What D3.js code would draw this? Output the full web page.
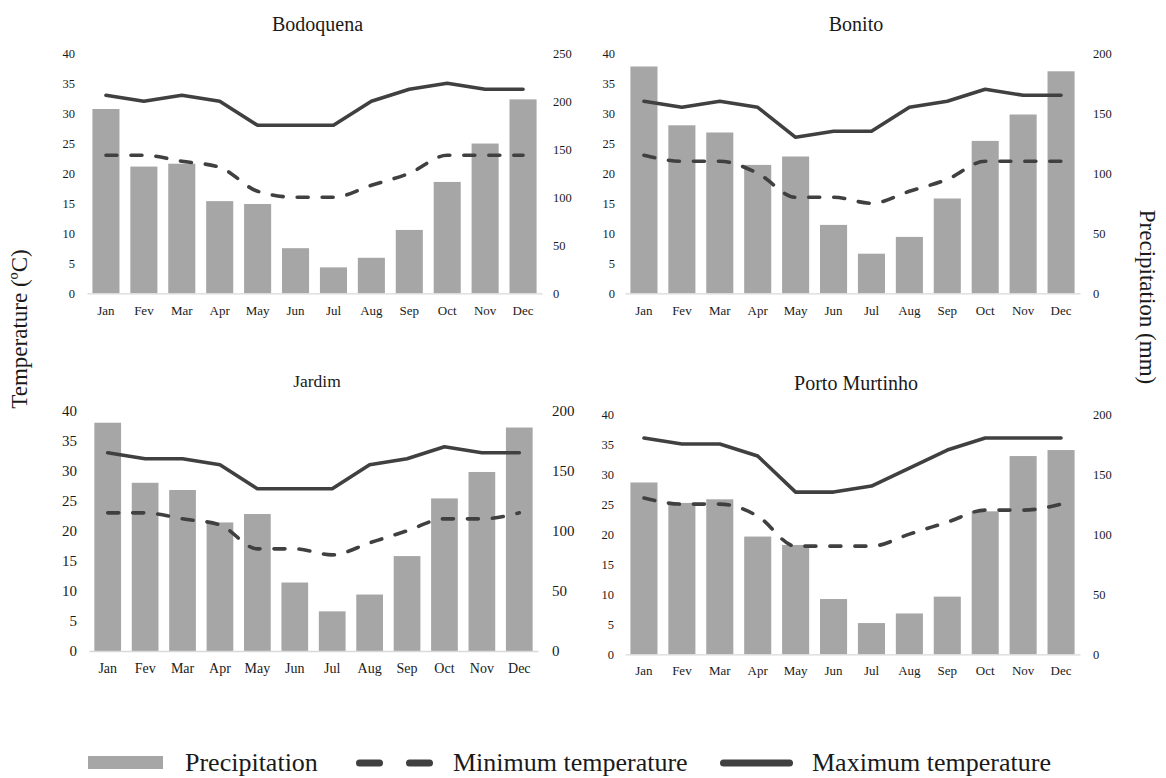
<!DOCTYPE html>
<html>
<head>
<meta charset="utf-8">
<script src="https://cdn.jsdelivr.net/npm/d3@7"></script>
<style>
  html, body { margin: 0; padding: 0; background: #fff; }
  svg { display: block; }
  svg text { font-family: "Liberation Serif", "Times New Roman", serif; }
</style>
</head>
<body>
<svg id="chart" width="1166" height="778"></svg>
<script>
// Monthly climate normals for four municipalities
const months = ["Jan", "Fev", "Mar", "Apr", "May", "Jun", "Jul", "Aug", "Sep", "Oct", "Nov", "Dec"];

const bodoquenaPrecip = [192, 132, 135, 96, 93, 47, 27, 37, 66, 116, 156, 202];
const bodoquenaMax    = [33, 32, 33, 32, 28, 28, 28, 32, 34, 35, 34, 34];
const bodoquenaMin    = [23, 23, 22, 21, 17, 16, 16, 18, 20, 23, 23, 23];

const bonitoPrecip = [189, 140, 134, 107, 114, 57, 33, 47, 79, 127, 149, 185];
const bonitoMax    = [32, 31, 32, 31, 26, 27, 27, 31, 32, 34, 33, 33];
const bonitoMin    = [23, 22, 22, 20, 16, 16, 15, 17, 19, 22, 22, 22];

const jardimPrecip = [190, 140, 134, 107, 114, 57, 33, 47, 79, 127, 149, 186];
const jardimMax    = [33, 32, 32, 31, 27, 27, 27, 31, 32, 34, 33, 33];
const jardimMin    = [23, 23, 22, 21, 17, 17, 16, 18, 20, 22, 22, 23];

const portoPrecip = [143, 126, 129, 98, 91, 46, 26, 34, 48, 119, 165, 170];
const portoMax    = [36, 35, 35, 33, 27, 27, 28, 31, 34, 36, 36, 36];
const portoMin    = [26, 25, 25, 23, 18, 18, 18, 20, 22, 24, 24, 25];

const tempTicks = [0, 5, 10, 15, 20, 25, 30, 35, 40];
const precipTicks250 = [0, 50, 100, 150, 200, 250];
const precipTicks200 = [0, 50, 100, 150, 200];

const legendLabels = ["Precipitation", "Minimum temperature", "Maximum temperature"];

// Panel geometry and text sizes
const panels = [
  { title: "Bodoquena", precip: bodoquenaPrecip, tmax: bodoquenaMax, tmin: bodoquenaMin,
    pTicks: precipTicks250, pMax: 250,
    x0: 87, x1: 542, yTop: 53.3, yBot: 293.3,
    titleX: 317.5, titleY: 30.5, titleSize: 20,
    tickSize: 12.5, monthSize: 13, padL: 12, padR: 11, padB: 12 },
  { title: "Bonito", precip: bonitoPrecip, tmax: bonitoMax, tmin: bonitoMin,
    pTicks: precipTicks200, pMax: 200,
    x0: 625, x1: 1080, yTop: 53.3, yBot: 293.3,
    titleX: 856, titleY: 30.5, titleSize: 20,
    tickSize: 12.5, monthSize: 13, padL: 10, padR: 13, padB: 12 },
  { title: "Jardim", precip: jardimPrecip, tmax: jardimMax, tmin: jardimMin,
    pTicks: precipTicks200, pMax: 200,
    x0: 89, x1: 538, yTop: 410.7, yBot: 651,
    titleX: 317, titleY: 386.5, titleSize: 17.5,
    tickSize: 15, monthSize: 14, padL: 12, padR: 14, padB: 12.5 },
  { title: "Porto Murtinho", precip: portoPrecip, tmax: portoMax, tmin: portoMin,
    pTicks: precipTicks200, pMax: 200,
    x0: 625, x1: 1080, yTop: 414, yBot: 654.3,
    titleX: 856, titleY: 390, titleSize: 20,
    tickSize: 12.5, monthSize: 13, padL: 11, padR: 13, padB: 11.5 }
];

const barColor = "#a6a6a6";
const lineColor = "#404040";
const axisColor = "#d9d9d9";
const textColor = "#1a1a1a";

const svg = d3.select("#chart");

function styleAxis(sel, size) {
  sel.attr("font-family", null).attr("font-size", null);
  sel.selectAll("text").style("font-size", size + "px").attr("fill", textColor);
}

panels.forEach(p => {
  const g = svg.append("g");

  const x = d3.scaleBand()
    .domain(months)
    .range([p.x0, p.x1])
    .paddingInner(0.286)
    .paddingOuter(0.143);

  const yT = d3.scaleLinear().domain([0, 40]).range([p.yBot, p.yTop]);
  const yP = d3.scaleLinear().domain([0, p.pMax]).range([p.yBot, p.yTop]);

  // precipitation bars (right axis)
  g.append("g").selectAll("rect")
    .data(p.precip)
    .join("rect")
    .attr("x", (d, i) => x(months[i]))
    .attr("width", x.bandwidth())
    .attr("y", d => yP(d))
    .attr("height", d => yP(0) - yP(d))
    .attr("fill", barColor);

  // category axis
  const ax = g.append("g")
    .attr("transform", `translate(0,${p.yBot})`)
    .call(d3.axisBottom(x).tickSize(0).tickSizeOuter(0).tickPadding(p.padB));
  ax.select(".domain").attr("stroke", axisColor).attr("stroke-width", 1.3);
  styleAxis(ax, p.monthSize);

  // temperature axis (left)
  const al = g.append("g")
    .attr("transform", `translate(${p.x0},0)`)
    .call(d3.axisLeft(yT).tickValues(tempTicks).tickSize(0).tickPadding(p.padL));
  al.select(".domain").remove();
  styleAxis(al, p.tickSize);

  // precipitation axis (right)
  const ar = g.append("g")
    .attr("transform", `translate(${p.x1},0)`)
    .call(d3.axisRight(yP).tickValues(p.pTicks).tickSize(0).tickPadding(p.padR));
  ar.select(".domain").remove();
  styleAxis(ar, p.tickSize);

  const cx = i => x(months[i]) + x.bandwidth() / 2;

  // minimum temperature (smoothed, dashed)
  g.append("path")
    .datum(p.tmin)
    .attr("d", d3.line().x((d, i) => cx(i)).y(d => yT(d)).curve(d3.curveMonotoneX))
    .attr("fill", "none")
    .attr("stroke", lineColor)
    .attr("stroke-width", 3.6)
    .attr("stroke-linecap", "round")
    .attr("stroke-dasharray", "11,14");

  // maximum temperature
  g.append("path")
    .datum(p.tmax)
    .attr("d", d3.line().x((d, i) => cx(i)).y(d => yT(d)))
    .attr("fill", "none")
    .attr("stroke", lineColor)
    .attr("stroke-width", 3.6)
    .attr("stroke-linejoin", "round")
    .attr("stroke-linecap", "round");

  // panel title
  g.append("text")
    .attr("x", p.titleX)
    .attr("y", p.titleY)
    .attr("text-anchor", "middle")
    .style("font-size", p.titleSize + "px")
    .attr("fill", textColor)
    .text(p.title);
});

// shared axis titles
svg.append("text")
  .attr("transform", "translate(27,329) rotate(-90)")
  .attr("text-anchor", "middle")
  .style("font-size", "23px")
  .attr("fill", textColor)
  .text("Temperature (ºC)");

svg.append("text")
  .attr("transform", "translate(1140,297) rotate(90)")
  .attr("text-anchor", "middle")
  .style("font-size", "23px")
  .attr("fill", textColor)
  .text("Precipitation (mm)");

// legend
const lg = svg.append("g");
const legendY = 763;
const legendBase = 771;
lg.append("rect").attr("x", 88).attr("y", 756).attr("width", 75).attr("height", 13).attr("fill", barColor);
lg.append("line")
  .attr("x1", 359.5).attr("x2", 429.5).attr("y1", legendY).attr("y2", legendY)
  .attr("stroke", lineColor).attr("stroke-width", 7)
  .attr("stroke-linecap", "round").attr("stroke-dasharray", "20,30");
lg.append("line")
  .attr("x1", 723.5).attr("x2", 789.5).attr("y1", legendY).attr("y2", legendY)
  .attr("stroke", lineColor).attr("stroke-width", 7)
  .attr("stroke-linecap", "round");

const legendTextX = [185, 453, 812];
lg.selectAll("text.leg")
  .data(legendLabels)
  .join("text")
  .attr("class", "leg")
  .attr("x", (d, i) => legendTextX[i])
  .attr("y", legendBase)
  .style("font-size", "26px")
  .attr("fill", textColor)
  .text(d => d);
</script>
</body>
</html>
